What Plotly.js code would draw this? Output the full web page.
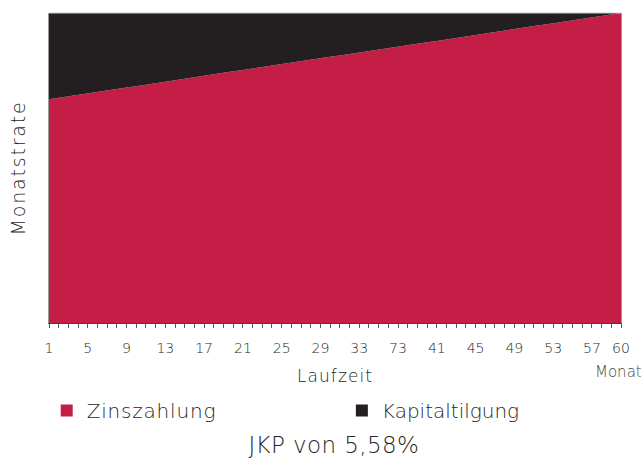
<!DOCTYPE html>
<html>
<head>
<meta charset="utf-8">
<script src="https://cdn.plot.ly/plotly-3.0.1.min.js"></script>
<style>
html,body{margin:0;padding:0;background:#fff}
#chart{width:642px;height:459px}
#chart .legendtext{letter-spacing:0.8px}
#chart .xtitle{letter-spacing:1.1px}
#chart .ytitle{letter-spacing:1.8px}
#chart .gtitle{letter-spacing:0.4px}
</style>
</head>
<body>
<div id="chart"></div>
<script>
const months = [1,2,3,4,5,6,7,8,9,10,11,12,13,14,15,16,17,18,19,20,21,22,23,24,25,26,27,28,29,30,31,32,33,34,35,36,37,38,39,40,41,42,43,44,45,46,47,48,49,50,51,52,53,54,55,56,57,58,59,60];
const zinszahlung = [72.2,72.7,73.1,73.6,74.1,74.6,75.0,75.5,76.0,76.4,76.9,77.4,77.9,78.3,78.8,79.3,79.7,80.2,80.7,81.2,81.6,82.1,82.6,83.0,83.5,84.0,84.5,84.9,85.4,85.9,86.3,86.8,87.3,87.8,88.2,88.7,89.2,89.6,90.1,90.6,91.0,91.5,92.0,92.5,92.9,93.4,93.9,94.3,94.8,95.3,95.8,96.2,96.7,97.2,97.6,98.1,98.6,99.1,99.5,100.0];
const kapitaltilgung = [27.8,27.3,26.9,26.4,25.9,25.4,25.0,24.5,24.0,23.6,23.1,22.6,22.1,21.7,21.2,20.7,20.3,19.8,19.3,18.8,18.4,17.9,17.4,17.0,16.5,16.0,15.5,15.1,14.6,14.1,13.7,13.2,12.7,12.2,11.8,11.3,10.8,10.4,9.9,9.4,9.0,8.5,8.0,7.5,7.1,6.6,6.1,5.7,5.2,4.7,4.2,3.8,3.3,2.8,2.4,1.9,1.4,0.9,0.5,0.0];
const labelMonths = [1,5,9,13,17,21,25,29,33,37,41,45,49,53,57,60];
const labelTexts = ["1","5","9","13","17","21","25","29","33","73","41","45","49","53","57","60"];
const seriesNames = ["Zinszahlung","Kapitaltilgung"];
const titleText = "JKP von 5,58%";

const RED = "#C41E47", BLACK = "#231F20", TXT = "#262626";
const FONT = "'DejaVu Sans', sans-serif";
const W = 200;
const tickText = months.map(m => { const i = labelMonths.indexOf(m); return i >= 0 ? labelTexts[i] : ""; });

const traces = [
  {x: months, y: zinszahlung, type: "scatter", mode: "lines", stackgroup: "one", line: {width: 0, color: RED}, fillcolor: RED, name: seriesNames[0], showlegend: false, hoverinfo: "skip"},
  {x: months, y: kapitaltilgung, type: "scatter", mode: "lines", stackgroup: "one", line: {width: 0, color: BLACK}, fillcolor: BLACK, name: seriesNames[1], showlegend: false, hoverinfo: "skip"},
  {x: [null], y: [null], type: "scatter", mode: "markers", marker: {symbol: "square", size: 12, color: RED}, name: seriesNames[0], legend: "legend"},
  {x: [null], y: [null], type: "scatter", mode: "markers", marker: {symbol: "square", size: 12, color: BLACK}, name: seriesNames[1], legend: "legend2"}
];

const legendBase = {orientation: "h", xanchor: "left", yanchor: "top", y: -0.219, font: {size: 20, color: TXT, weight: W}, itemwidth: 30, entrywidth: 220, entrywidthmode: "pixels", bgcolor: "rgba(0,0,0,0)", borderwidth: 0};

const layout = {
  width: 642, height: 459,
  margin: {l: 48.5, r: 21, t: 13, b: 136, autoexpand: false},
  paper_bgcolor: "#fff", plot_bgcolor: "#fff",
  font: {family: FONT, color: TXT, weight: W},
  showlegend: true,
  legend: Object.assign({}, legendBase, {x: -0.004}),
  legend2: Object.assign({}, legendBase, {x: 0.512}),
  title: {text: titleText, x: 0.52, xanchor: "center", y: 0.03, yref: "container", yanchor: "middle", font: {size: 23, color: TXT, weight: W}},
  xaxis: {
    range: [1, 60], tickmode: "array", tickvals: months, ticktext: tickText,
    ticks: "outside", ticklen: 4, tickwidth: 1, tickcolor: "#555",
    showline: true, linecolor: "#444", linewidth: 1, showgrid: false, zeroline: false,
    tickfont: {size: 14, color: TXT, weight: W}, ticklabelstandoff: 8,
    title: {text: "Laufzeit", font: {size: 17, color: TXT, weight: W}, standoff: 15},
    fixedrange: true, automargin: false
  },
  yaxis: {
    range: [0, 100], showticklabels: false, ticks: "", showgrid: false, zeroline: false,
    showline: true, linecolor: "#999", linewidth: 1, mirror: true,
    title: {text: "Monatstrate", font: {size: 19, color: TXT, weight: W}, standoff: 17},
    fixedrange: true, automargin: false
  },
  shapes: [{type: "line", xref: "paper", yref: "paper", x0: 0, x1: 1, y0: 1, y1: 1, line: {color: "#ccc", width: 1}}],
  annotations: [{text: "Monat", xref: "paper", yref: "paper", x: 0.995, y: -0.158, xanchor: "center", yanchor: "middle", showarrow: false, font: {size: 15, color: "#444", weight: W}}]
};

Plotly.newPlot("chart", traces, layout, {displayModeBar: false, staticPlot: true});
</script>
</body>
</html>
